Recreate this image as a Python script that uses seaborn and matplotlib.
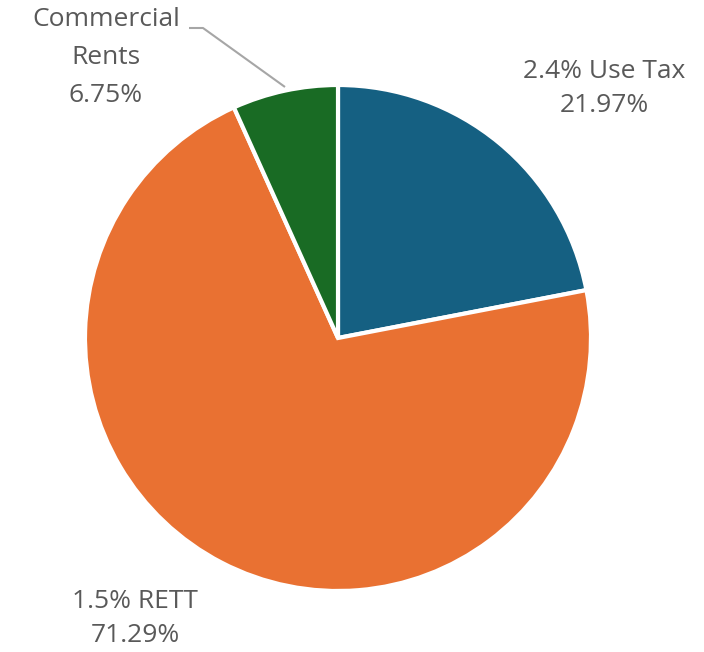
import matplotlib
matplotlib.use("Agg")
import matplotlib.pyplot as plt
import seaborn as sns

categories = ["2.4% Use Tax", "1.5% RETT", "Commercial Rents"]
shares = [21.97, 71.29, 6.75]
colors = ["#156082", "#E97132", "#196B24"]

sns.set_theme(style="white")
plt.rcParams["font.family"] = ["Open Sans", "DejaVu Sans"]

W, H = 704, 652
fig = plt.figure(figsize=(W / 100, H / 100), dpi=100)
ax = fig.add_axes([0, 0, 1, 1])

cx, cy, r = 338, H - 338, 253
ax.pie(shares, colors=colors, startangle=90, counterclock=False,
       center=(cx, cy), radius=r, frame=True,
       wedgeprops=dict(edgecolor="white", linewidth=3))
ax.set_xlim(0, W)
ax.set_ylim(0, H)
ax.set_aspect("equal")
ax.set_axis_off()

tc = "#595959"
fs = 19

def label(x, lines, y0, step):
    for i, t in enumerate(lines):
        ax.text(x, H - (y0 + i * step), t, ha="center", va="center",
                fontsize=fs, color=tc)

label(604, ["2.4% Use Tax", f"{shares[0]:.2f}%"], 72, 34)
label(135, ["1.5% RETT", f"{shares[1]:.2f}%"], 602, 34)
label(106, ["Commercial", "Rents", f"{shares[2]:.2f}%"], 19, 38)

# leader line for the small slice
ax.plot([189, 203, 285], [H - 28, H - 28, H - 87], color="#A6A6A6",
        linewidth=1.5, solid_capstyle="butt")

fig.savefig("out.png", dpi=100, facecolor="white")
